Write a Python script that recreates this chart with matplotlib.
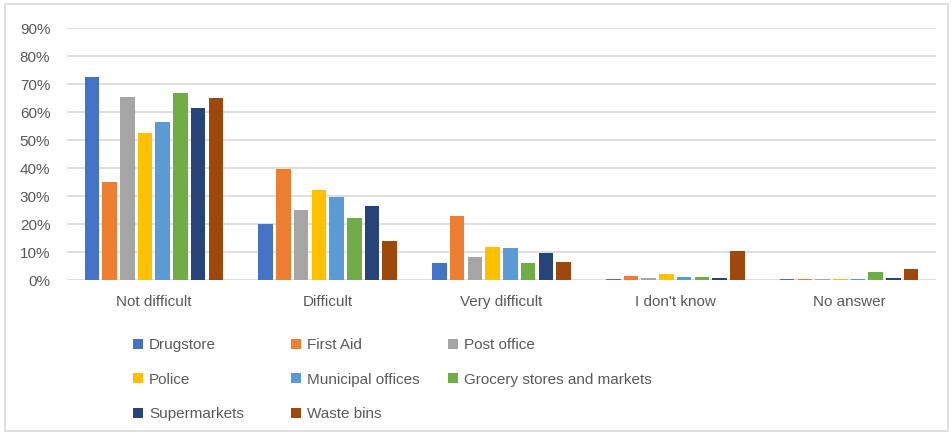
import matplotlib
matplotlib.use("Agg")
import matplotlib.pyplot as plt
import numpy as np
from matplotlib.patches import Rectangle, Patch

categories = ["Not difficult", "Difficult", "Very difficult", "I don't know", "No answer"]
series_names = ["Drugstore", "First Aid", "Post office", "Police", "Municipal offices",
                "Grocery stores and markets", "Supermarkets", "Waste bins"]
drugstore = [72.5, 19.9, 6.2, 0.5, 0.5]
first_aid = [35.0, 39.6, 23.0, 1.5, 0.5]
post_office = [65.5, 24.9, 8.1, 0.8, 0.5]
police = [52.5, 32.2, 11.8, 2.3, 0.5]
municipal = [56.4, 29.7, 11.5, 1.2, 0.5]
grocery = [66.8, 22.3, 6.2, 1.2, 2.9]
supermarkets = [61.3, 26.6, 9.8, 0.8, 0.8]
waste_bins = [65.1, 14.0, 6.3, 10.3, 3.9]
yticks = [0, 10, 20, 30, 40, 50, 60, 70, 80, 90]

series = [drugstore, first_aid, post_office, police, municipal, grocery, supermarkets, waste_bins]
colors = ["#4472C4", "#ED7D31", "#A5A5A5", "#FFC000", "#5B9BD5", "#70AD47", "#264478", "#9E480E"]

plt.rcParams['font.family'] = ['Liberation Sans', 'DejaVu Sans']
txt = "#595959"

fig = plt.figure(figsize=(9.53, 4.36), dpi=100)
ax = fig.add_axes([67/953, (436-280)/436, (936-67)/953, (280-28)/436])

n = len(series)
x = np.arange(len(categories))
group = 0.815
w = group / n
for i, (vals, c) in enumerate(zip(series, colors)):
    pos = x - group/2 + w*(i+0.5)
    ax.bar(pos, vals, width=w*0.82, color=c, linewidth=0, zorder=3,
           label=series_names[i])

ax.set_xlim(-0.5, len(categories)-0.5)
ax.set_ylim(0, 90)
ax.set_yticks(yticks)
ax.set_yticklabels([f"{t}%" for t in yticks])
ax.set_xticks(x)
ax.set_xticklabels(categories)
ax.grid(axis='y', color="#D9D9D9", linewidth=1.2, zorder=0)
for s in ax.spines.values():
    s.set_visible(False)
ax.tick_params(axis='both', length=0, labelsize=11, colors=txt)
ax.tick_params(axis='y', pad=12)
ax.tick_params(axis='x', pad=11)

# legend in three columns (row-major order)
cols_idx = [[0, 3, 6], [1, 4, 7], [2, 5]]
col_x = [133/953, 291/953, 448/953]
for cx, idxs in zip(col_x, cols_idx):
    handles = [Patch(facecolor=colors[i], edgecolor='none') for i in idxs]
    labels = [series_names[i] for i in idxs]
    leg = fig.legend(handles, labels, loc='upper left', bbox_to_anchor=(cx, 1-338/436),
                     frameon=False, fontsize=11, handlelength=0.65, handleheight=0.65,
                     handletextpad=0.4, labelspacing=1.35, borderpad=0, borderaxespad=0)
    for t in leg.get_texts():
        t.set_color(txt)

fig.patches.append(Rectangle((5/953, 5/436), 943/953, 427/436, transform=fig.transFigure,
                             fill=False, edgecolor="#D9D9D9", linewidth=1.2))

fig.savefig("out.png", dpi=100)
